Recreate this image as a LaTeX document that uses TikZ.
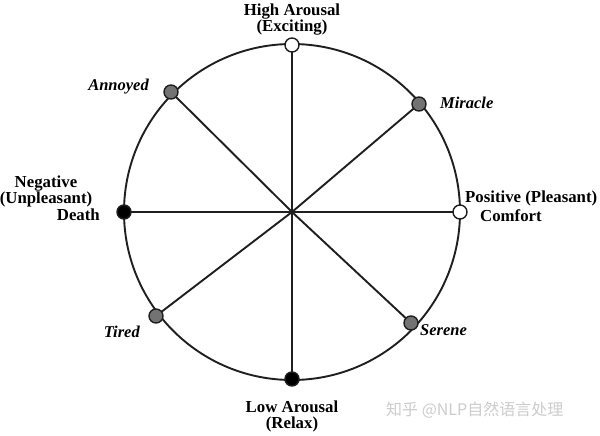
\documentclass[tikz,border=0pt]{standalone}
\usepackage{fontspec}
\setmainfont{Liberation Serif}
\newfontfamily\cjk{Noto Sans CJK SC}
\begin{document}
\begin{tikzpicture}[x=1pt,y=-1pt,
  lbl/.style={font=\fontsize{16.8}{17}\selectfont\bfseries, inner sep=0pt, align=center},
  emo/.style={font=\fontsize{16.5}{17}\selectfont\bfseries\itshape, inner sep=0pt},
  spoke/.style={line width=1.9pt, black!88},
  dotw/.style={circle, draw=black!88, line width=1.4pt, fill=white, minimum size=14pt, inner sep=0pt},
  dotk/.style={circle, draw=black!88, line width=1.4pt, fill=black, minimum size=14pt, inner sep=0pt},
  dotg/.style={circle, draw=black!88, line width=1.4pt, fill=black!55, minimum size=14pt, inner sep=0pt}]
\useasboundingbox (0,0) rectangle (600,436);
\fill[white] (0,0) rectangle (600,436);
\coordinate (c) at (292,212);
\draw[line width=1.9pt, black!88] (c) circle[radius=168];
% points
\coordinate (pt) at (292,45);
\coordinate (pb) at (292,379);
\coordinate (pl) at (124,212);
\coordinate (pr) at (460,212);
\coordinate (pa) at (171,92);
\coordinate (pm) at (419,104);
\coordinate (pti) at (156,316);
\coordinate (ps) at (411,323);
\foreach \p in {pt,pb,pl,pr,pa,pm,pti,ps} \draw[spoke] (c) -- (\p);
\node[dotw] (top) at (pt) {};
\node[dotk] (bot) at (pb) {};
\node[dotk] (lef) at (pl) {};
\node[dotw] (rig) at (pr) {};
\node[dotg] (ann) at (pa) {};
\node[dotg] (mir) at (pm) {};
\node[dotg] (tir) at (pti) {};
\node[dotg] (ser) at (ps) {};
% labels
\node[lbl] (hi) at (292,20) {High Arousal\\[-1pt](Exciting)};
\node[lbl] (lo) at (292,416) {Low Arousal\\[-1pt](Relax)};
\node[lbl] (neg) at (46,191) {Negative\\[-1pt](Unpleasant)};
\node[lbl, anchor=east] (death) at (100,215) {Death};
\node[lbl, anchor=west] (pos) at (465,198) {Positive (Pleasant)};
\node[lbl, anchor=west] (comf) at (480,216) {Comfort};
\node[emo, anchor=east] (tann) at (149,87) {Annoyed};
\node[emo, anchor=west] (tmir) at (440,103) {Miracle};
\node[emo, anchor=east] (ttir) at (140,332) {Tired};
\node[emo, anchor=west] (tser) at (420,330) {Serene};
\node[font=\cjk\fontsize{16}{17}\selectfont, text=black!20, anchor=west, inner sep=0pt] (wm) at (386,410) {知乎 @NLP自然语言处理};
\end{tikzpicture}
\end{document}
